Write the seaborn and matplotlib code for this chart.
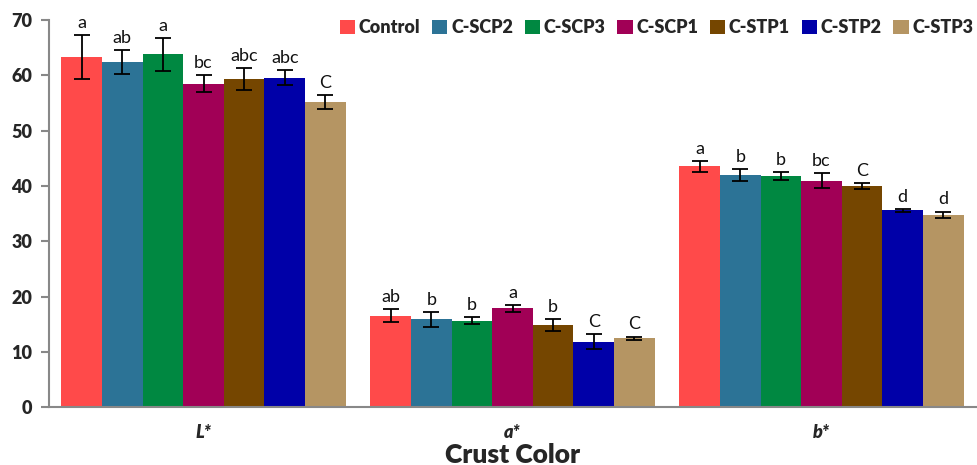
import matplotlib
matplotlib.use("Agg")
import matplotlib.pyplot as plt
import seaborn as sns
import pandas as pd
import numpy as np

categories = ["L*", "a*", "b*"]
treatments = ["Control", "C-SCP2", "C-SCP3", "C-SCP1", "C-STP1", "C-STP2", "C-STP3"]
colors = ["#FF4A4A", "#2C7396", "#008841", "#A10056", "#754600", "#0000A8", "#B59563"]

L_vals = [63.3, 62.4, 63.8, 58.5, 59.4, 59.6, 55.2]
a_vals = [16.6, 15.9, 15.7, 17.9, 14.9, 11.9, 12.5]
b_vals = [43.6, 42.0, 41.8, 41.0, 40.0, 35.6, 34.8]

L_err = [4.0, 2.2, 3.0, 1.5, 2.0, 1.4, 1.2]
a_err = [1.2, 1.3, 0.6, 0.6, 1.0, 1.4, 0.3]
b_err = [1.0, 1.1, 0.7, 1.4, 0.5, 0.3, 0.6]

L_letters = ["a", "ab", "a", "bc", "abc", "abc", "C"]
a_letters = ["ab", "b", "b", "a", "b", "C", "C"]
b_letters = ["a", "b", "b", "bc", "C", "d", "d"]

vals = [L_vals, a_vals, b_vals]
errs = [L_err, a_err, b_err]
letters = [L_letters, a_letters, b_letters]

rows = []
for ci, cat in enumerate(categories):
    for ti, tr in enumerate(treatments):
        rows.append({"cat": cat, "treat": tr, "val": vals[ci][ti],
                     "err": errs[ci][ti], "let": letters[ci][ti]})
df = pd.DataFrame(rows)

sns.set_theme(style="white")
plt.rcParams["font.family"] = ["Lato", "DejaVu Sans"]

fig = plt.figure(figsize=(9.77, 4.65), dpi=100)
ax = fig.add_axes([0.0502, 0.1237, 0.9488, 0.833])

sns.barplot(data=df, x="cat", y="val", hue="treat", order=categories,
            hue_order=treatments, palette=colors, width=0.92, gap=0,
            errorbar=None, saturation=1, ax=ax, legend=True, linewidth=0)

bar_containers = list(ax.containers)
for ti, cont in enumerate(bar_containers):
    for ci, bar in enumerate(cont.patches):
        x = bar.get_x() + bar.get_width() / 2
        h = bar.get_height()
        e = errs[ci][ti]
        ax.errorbar(x, h, yerr=e, fmt="none", ecolor="black", elinewidth=1.3,
                    capsize=5.5, capthick=1.3, zorder=5)
        ax.annotate(letters[ci][ti], (x, h + e), xytext=(0, 3),
                    textcoords="offset points", ha="center", va="bottom",
                    fontsize=13, color="#111111", annotation_clip=False)

ax.set_ylim(0, 70)
ax.set_xlim(-0.5, 2.5)
ax.set_yticks(np.arange(0, 71, 10))
ax.set_yticklabels([str(v) for v in range(0, 71, 10)], fontsize=13, fontweight="heavy")
ax.set_xticks([0, 1, 2])
ax.set_xticklabels(categories, fontsize=13, fontweight="heavy", style="italic")
ax.set_xticks([-0.5, 0.5, 1.5, 2.5], minor=True)
ax.tick_params(axis="x", which="major", length=0, pad=12)
ax.tick_params(axis="x", which="minor", length=7, width=1.5, color="#888888", direction="out")
ax.tick_params(axis="y", length=6, width=1.5, color="#888888", direction="out", left=True, pad=6)
for s in ["top", "right"]:
    ax.spines[s].set_visible(False)
for s in ["left", "bottom"]:
    ax.spines[s].set_color("#888888")
    ax.spines[s].set_linewidth(1.5)
ax.set_ylabel("")
ax.set_xlabel("Crust Color", fontsize=19, fontweight="heavy", labelpad=1)

handles, labels = ax.get_legend_handles_labels()
ax.get_legend().remove()
leg = fig.legend(handles, labels, loc="center right", bbox_to_anchor=(1.0, 0.94),
                 ncol=7, frameon=False, handlelength=0.85, handleheight=0.85,
                 handletextpad=0.2, columnspacing=0.65, borderpad=0.1,
                 borderaxespad=0.1, prop={"size": 13, "weight": "heavy"})

fig.savefig("out.png", dpi=100)
